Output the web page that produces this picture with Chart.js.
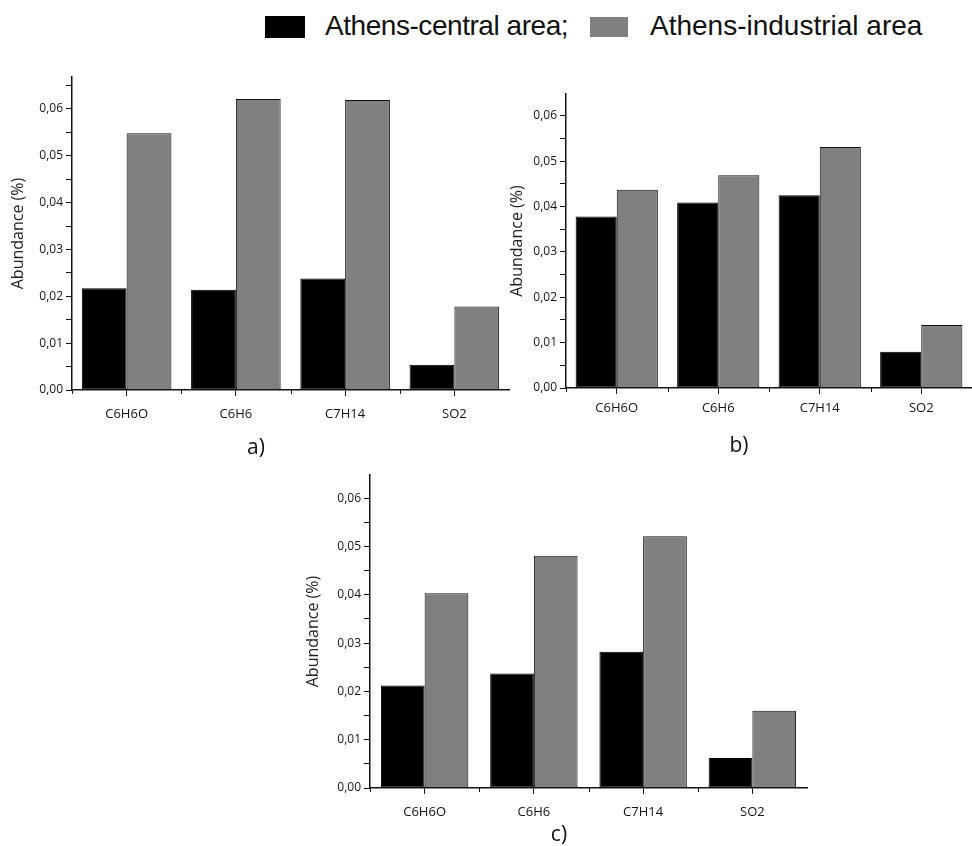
<!DOCTYPE html>
<html>
<head>
<meta charset="utf-8">
<script src="https://cdn.jsdelivr.net/npm/chart.js@4.4.1/dist/chart.umd.min.js"></script>
<style>
  html, body { margin: 0; padding: 0; background: #fff; }
  #wrap { position: relative; width: 972px; height: 846px; overflow: hidden; background: #fff; }
  canvas { position: absolute; }
  .lg-box { position: absolute; }
  .lg-text { position: absolute; font-family: "Liberation Sans", Arial, sans-serif; font-size: 28px; color: #111; white-space: nowrap; line-height: 1; }
  .panel { position: absolute; font-family: "Open Sans", sans-serif; font-size: 21px; color: #111; line-height: 1; transform: translate(-50%, -50%); white-space: nowrap; }
</style>
</head>
<body>
<div id="wrap">
  <div class="lg-box" style="left:265px;top:16px;width:40px;height:22px;background:#000;"></div>
  <div class="lg-text" id="lg1" style="left:325px;top:12px;letter-spacing:-0.45px;"></div>
  <div class="lg-box" style="left:590px;top:17px;width:38px;height:20px;background:#808080;"></div>
  <div class="lg-text" id="lg2" style="left:650px;top:12px;"></div>
  <canvas id="ca" width="515" height="410" style="left:0px;top:50px;width:515px;height:410px;"></canvas>
  <canvas id="cb" width="478" height="410" style="left:494px;top:50px;width:478px;height:410px;"></canvas>
  <canvas id="cc" width="515" height="386" style="left:298px;top:460px;width:515px;height:386px;"></canvas>
  <div class="panel" id="pa" style="left:256px;top:446px;"></div>
  <div class="panel" id="pb" style="left:739px;top:444px;"></div>
  <div class="panel" id="pc" style="left:559px;top:833px;"></div>
</div>
<script>
// ---- data ----
const categories = ["C6H6O", "C6H6", "C7H14", "SO2"];
const seriesNames = ["Athens-central area;", "Athens-industrial area"];
const panelLabels = ["a)", "b)", "c)"];
const yAxisTitle = "Abundance (%)";

const centralA    = [0.0217, 0.0214, 0.0238, 0.0054];
const industrialA = [0.0548, 0.0621, 0.0619, 0.0178];

const centralB    = [0.0378, 0.0409, 0.0425, 0.0080];
const industrialB = [0.0437, 0.0469, 0.0531, 0.0139];

const centralC    = [0.0212, 0.0237, 0.0282, 0.0062];
const industrialC = [0.0403, 0.0481, 0.0521, 0.0160];

const yTickStep = 0.005;
const yMaxA = 0.0668, yMaxB = 0.0648, yMaxC = 0.0648;

// ---- text ----
document.getElementById('lg1').textContent = seriesNames[0];
document.getElementById('lg2').textContent = seriesNames[1];
document.getElementById('pa').textContent = panelLabels[0];
document.getElementById('pb').textContent = panelLabels[1];
document.getElementById('pc').textContent = panelLabels[2];

const INK = '#141414';

const catTicks = {
  id: 'catTicks',
  afterDraw(chart) {
    const s = chart.scales.x;
    const ctx = chart.ctx;
    ctx.save();
    ctx.strokeStyle = INK;
    ctx.lineWidth = 1;
    for (let i = 0; i < categories.length; i++) {
      const x = Math.round(s.getPixelForValue(i - 0.5)) + 0.5;
      ctx.beginPath();
      ctx.moveTo(x, s.top);
      ctx.lineTo(x, s.top + 4);
      ctx.stroke();
    }
    ctx.restore();
  }
};

function fmt(v) {
  const r = Math.round(v * 1000);
  if (r % 10 !== 0) return '';
  return (r / 1000).toFixed(2).replace('.', ',');
}

function build(id, central, industrial, cfg) {
  return new Chart(document.getElementById(id), {
    type: 'bar',
    data: {
      labels: categories,
      datasets: [
        { label: seriesNames[0], data: central, backgroundColor: '#000', borderColor: '#000', borderWidth: 1, borderSkipped: false },
        { label: seriesNames[1], data: industrial, backgroundColor: '#808080', borderColor: '#111', borderWidth: 1, borderSkipped: false }
      ]
    },
    options: {
      responsive: false,
      animation: false,
      layout: { padding: { top: cfg.padTop, right: cfg.padRight, left: 0, bottom: 0 } },
      plugins: { legend: { display: false }, tooltip: { enabled: false } },
      datasets: { bar: { categoryPercentage: cfg.cat, barPercentage: 1 } },
      scales: {
        x: {
          grid: { offset: false, drawOnChartArea: false, tickLength: 6, color: INK, lineWidth: 1 },
          border: { color: INK, width: 1.5 },
          ticks: { font: { family: 'Open Sans', size: 13, weight: 500 }, color: INK, padding: cfg.xPad, maxRotation: 0, autoSkip: false },
          afterFit: s => { s.height = cfg.xH; }
        },
        y: {
          min: 0, max: cfg.max,
          grid: { drawOnChartArea: false, tickLength: 6, color: INK, lineWidth: 1 },
          border: { color: INK, width: 1.5 },
          ticks: { stepSize: yTickStep, autoSkip: false, includeBounds: false, padding: 3, font: { family: 'Open Sans', size: 12, weight: 500 }, color: INK, callback: v => fmt(v) },
          title: { display: true, text: yAxisTitle, font: { family: 'Open Sans', size: 16 }, color: '#222', padding: { top: cfg.yTitlePad, bottom: 0 } },
          afterFit: s => { s.width = 72; }
        }
      }
    },
    plugins: [catTicks]
  });
}

function go() {
  build('ca', centralA, industrialA, { padTop: 27, padRight: 6, cat: 0.82, xPad: 10, xH: 70, max: yMaxA, yTitlePad: 9 });
  build('cb', centralB, industrialB, { padTop: 44, padRight: 0, cat: 0.81, xPad: 6, xH: 72, max: yMaxB, yTitlePad: 14 });
  build('cc', centralC, industrialC, { padTop: 15, padRight: 6, cat: 0.80, xPad: 10, xH: 58, max: yMaxC, yTitlePad: 6 });
}

if (document.fonts && document.fonts.load) {
  Promise.all([
    document.fonts.load('500 13px "Open Sans"'),
    document.fonts.load('16px "Open Sans"'),
    document.fonts.load('28px "Liberation Sans"')
  ]).then(go, go);
} else { go(); }
</script>
</body>
</html>
